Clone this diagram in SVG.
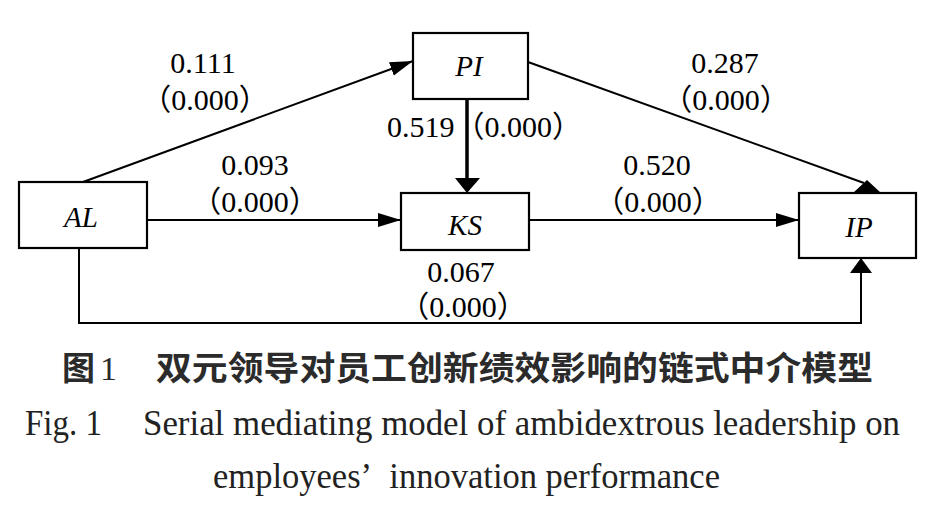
<svg xmlns="http://www.w3.org/2000/svg" width="933" height="511" viewBox="0 0 933 511">
<style>
.box{fill:#fff;stroke:#000;stroke-width:2.2}
.ln{fill:none;stroke:#000;stroke-width:2}
.nl{font-family:"Liberation Serif",serif;font-style:italic;font-size:29px;fill:#000;text-anchor:middle}
.lb{font-family:"Liberation Serif","Noto Sans CJK SC",serif;font-size:30px;fill:#000;text-anchor:middle;text-spacing-trim:space-all}
.cn{font-family:"Noto Sans CJK SC",sans-serif;font-size:33px;font-weight:700;fill:#2b2b2b}
.en{font-family:"Liberation Serif",serif;font-size:36px;fill:#222}
.ah{fill:#000}
</style>
<defs>
<marker id="arr" markerUnits="userSpaceOnUse" markerWidth="24" markerHeight="16" refX="23" refY="7" orient="auto">
<path d="M0,0 L23,7 L0,14 Z" fill="#000"/>
</marker>
</defs>
<g id="connectors">
<line class="ln" x1="83" y1="182" x2="413" y2="61" marker-end="url(#arr)"/>
<line class="ln" x1="148" y1="220" x2="401" y2="220" marker-end="url(#arr)"/>
<line class="ln" x1="529" y1="220" x2="799" y2="220" marker-end="url(#arr)"/>
<line class="ln" x1="467" y1="99" x2="467" y2="180" style="stroke-width:3.5"/>
<polygon class="ah" points="455,178 480,178 467,193"/>
<line class="ln" x1="528" y1="62" x2="864" y2="183"/>
<polygon class="ah" points="853,193 867,180 881,193"/>
<polyline class="ln" points="79,248 79,323 861,323 861,270"/>
<polygon class="ah" points="850,273 872,273 861,258"/>
</g>
<g id="AL">
<rect class="box" x="19" y="182" width="128" height="66"/>
<text class="nl" x="81" y="227">AL</text>
</g>
<g id="PI">
<rect class="box" x="413" y="33" width="115" height="66"/>
<text class="nl" x="469" y="76">PI</text>
</g>
<g id="KS">
<rect class="box" x="401" y="193" width="128" height="57"/>
<text class="nl" x="465" y="235">KS</text>
</g>
<g id="IP">
<rect class="box" x="799" y="193" width="117" height="65"/>
<text class="nl" x="859" y="237">IP</text>
</g>
<g id="labels">
<text class="lb" x="203" y="73">0.111</text>
<text class="lb" x="205" y="110">（0.000）</text>
<text class="lb" x="255" y="175">0.093</text>
<text class="lb" x="255" y="212">（0.000）</text>
<text class="lb" x="387" y="137" style="text-anchor:start">0.519（0.000）</text>
<text class="lb" x="725" y="73">0.287</text>
<text class="lb" x="726" y="110">（0.000）</text>
<text class="lb" x="657" y="175">0.520</text>
<text class="lb" x="658" y="212">（0.000）</text>
<text class="lb" x="461" y="282">0.067</text>
<text class="lb" x="463" y="317">（0.000）</text>
</g>
<g id="caption">
<text class="cn" x="62" y="380">图</text>
<text class="en" x="100" y="380" style="font-size:34px;fill:#2b2b2b">1</text>
<text class="cn" x="156" y="380" textLength="717" lengthAdjust="spacingAndGlyphs">双元领导对员工创新绩效影响的链式中介模型</text>
<text class="en" x="25" y="435" textLength="77" lengthAdjust="spacingAndGlyphs">Fig. 1</text>
<text class="en" x="143" y="435" textLength="757" lengthAdjust="spacingAndGlyphs">Serial mediating model of ambidextrous leadership on</text>
<text class="en" x="213" y="488" textLength="507" lengthAdjust="spacingAndGlyphs">employees’&#160;&#160;innovation performance</text>
</g>
</svg>
